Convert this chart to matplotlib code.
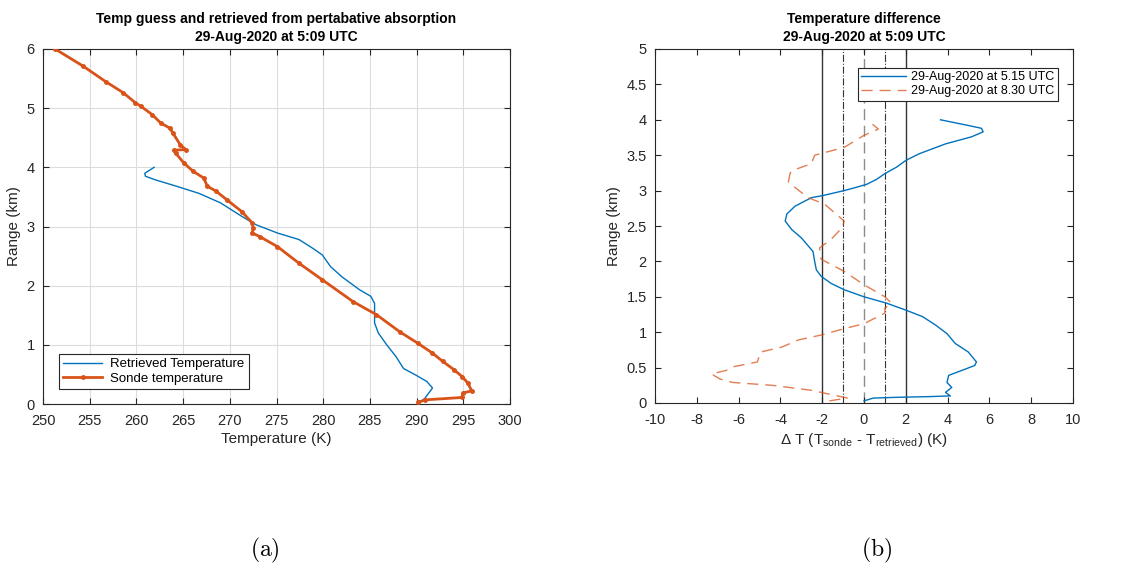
import numpy as np
import matplotlib.pyplot as plt
from matplotlib.ticker import MultipleLocator, FormatStrFormatter

# left panel: temperature profiles (K) vs range (km)
sonde_T = [290.2, 290.9, 294.85, 295.0, 295.9, 295.5, 294.9, 294.0, 292.8, 291.7,
           290.1, 288.2, 285.7, 283.2, 279.9, 277.4, 275.1, 273.2, 272.4, 272.5,
           272.4, 271.3, 269.7, 268.5, 267.6, 267.2, 266.1, 265.1, 264.2, 264.0,
           265.3, 264.7, 263.9, 263.6, 262.6, 261.7, 260.5, 259.9, 258.6, 256.7,
           254.3, 251.3]
sonde_z = [0.03, 0.07, 0.11, 0.19, 0.22, 0.35, 0.46, 0.58, 0.72, 0.86,
           1.03, 1.22, 1.51, 1.73, 2.10, 2.38, 2.66, 2.83, 2.89, 2.97,
           3.06, 3.25, 3.45, 3.60, 3.68, 3.82, 3.93, 4.07, 4.24, 4.29,
           4.30, 4.38, 4.58, 4.66, 4.75, 4.89, 5.03, 5.09, 5.26, 5.45,
           5.71, 6.0]

retr_T = [290.4, 290.9, 291.7, 291.1, 289.9, 288.6, 287.8, 286.8, 285.9, 285.5,
          285.5, 285.5, 285.1, 283.9, 282.0, 280.8, 279.9, 278.9, 277.4, 275.1,
          272.8, 271.3, 269.0, 266.7, 264.3, 262.0, 260.96, 260.9, 261.9]
retr_z = [0.03, 0.10, 0.27, 0.38, 0.49, 0.60, 0.80, 1.00, 1.20, 1.37,
          1.53, 1.70, 1.82, 1.93, 2.15, 2.32, 2.52, 2.63, 2.78, 2.89,
          3.03, 3.17, 3.40, 3.56, 3.68, 3.79, 3.85, 3.90, 4.0]

# right panel: temperature difference (K) vs range (km)
d515_T = [0.0, 0.45, 1.55, 3.1, 4.13, 3.9, 4.2, 3.97, 4.05, 4.68,
          5.3, 5.38, 4.99, 4.37, 3.97, 3.43, 2.8, 2.02, 1.08, 0.0,
          -0.95, -1.58, -2.05, -2.28, -2.36, -2.44, -2.99, -3.46, -3.77, -3.69,
          -3.3, -2.52, -1.97, -0.95, -0.33, 0.14, 0.61, 1.0, 1.55, 2.02,
          2.64, 3.9, 5.15, 5.7, 5.62, 4.99, 3.66]
d515_z = [0.03, 0.07, 0.08, 0.09, 0.10, 0.15, 0.22, 0.29, 0.39, 0.46,
          0.53, 0.58, 0.72, 0.84, 0.98, 1.10, 1.22, 1.31, 1.41, 1.50,
          1.60, 1.69, 1.79, 1.88, 2.00, 2.14, 2.33, 2.45, 2.57, 2.67,
          2.78, 2.90, 2.93, 3.00, 3.05, 3.09, 3.16, 3.24, 3.33, 3.43,
          3.52, 3.66, 3.76, 3.83, 3.88, 3.92, 4.0]

d830_T = [-1.66, -0.8, -1.27, -2.52, -4.4, -6.28, -6.9, -7.3, -6.6, -6.28,
          -5.1, -4.95, -3.93, -3.15, -2.05, -0.95, 0.0, 1.0, 1.0, 1.31,
          1.0, 0.0, -0.95, -2.05, -2.13, -1.58, -1.03, -0.95, -1.89, -2.68,
          -3.62, -3.54, -3.46, -2.52, -2.36, -0.95, 0.0, 0.69, 0.3]
d830_z = [0.03, 0.07, 0.10, 0.18, 0.25, 0.29, 0.34, 0.41, 0.46, 0.51,
          0.58, 0.72, 0.79, 0.89, 0.96, 1.05, 1.12, 1.27, 1.34, 1.41,
          1.50, 1.67, 1.86, 2.03, 2.19, 2.31, 2.48, 2.57, 2.81, 2.90,
          3.12, 3.24, 3.28, 3.38, 3.50, 3.61, 3.78, 3.87, 3.96]

blue = '#0072BD'
orange = '#D95319'
axcol = '#262626'

plt.rcParams['font.family'] = ['Liberation Sans', 'DejaVu Sans']
plt.rcParams['mathtext.fontset'] = 'custom'
plt.rcParams['mathtext.rm'] = 'Liberation Sans'
plt.rcParams['axes.unicode_minus'] = False
plt.rcParams['axes.edgecolor'] = axcol
plt.rcParams['xtick.color'] = axcol
plt.rcParams['ytick.color'] = axcol
plt.rcParams['xtick.direction'] = 'in'
plt.rcParams['ytick.direction'] = 'in'

fig = plt.figure(figsize=(11.3, 5.69), dpi=100)
ax1 = fig.add_axes([43/1130, 1-404/569, (510-43)/1130, (404-49)/569])
ax2 = fig.add_axes([655/1130, 1-403/569, (1073-655)/1130, (403-49)/569])

# (a)
ax1.grid(True, color='#dcdcdc', linewidth=0.8, zorder=0)
ax1.plot(retr_T, retr_z, color=blue, linewidth=1, label='Retrieved Temperature', zorder=3)
ax1.plot(sonde_T, sonde_z, color=orange, linewidth=2, marker='o', markersize=2.5,
         label='Sonde temperature', zorder=4)
ax1.set_xlim(250, 300)
ax1.set_ylim(0, 6)
ax1.xaxis.set_major_locator(MultipleLocator(5))
ax1.yaxis.set_major_locator(MultipleLocator(1))
ax1.tick_params(top=True, right=True, labelsize=10.5, length=4)
ax1.tick_params(axis='x', pad=7)
ax1.tick_params(axis='y', pad=6)
ax1.set_xlabel('Temperature (K)', fontsize=11, color=axcol, labelpad=3)
ax1.set_ylabel('Range (km)', fontsize=11, color=axcol, labelpad=4)
ax1.set_title('Temp guess and retrieved from pertabative absorption\n29-Aug-2020 at 5:09 UTC',
              fontsize=10, fontweight='bold', pad=6, linespacing=1.3)
leg1 = ax1.legend(loc='lower left', bbox_to_anchor=(0.02, 0.025), fontsize=9.5,
                  fancybox=False, framealpha=1, edgecolor=axcol, borderpad=0.3,
                  handlelength=3.0, handletextpad=0.6, labelspacing=0.15)
leg1.get_frame().set_linewidth(0.8)

# (b)
for xv in (-2, 2):
    ax2.axvline(xv, color='#333333', linewidth=1, zorder=1)
for xv in (-1, 1):
    ax2.axvline(xv, color='#333333', linewidth=0.8, linestyle='-.', zorder=1)
ax2.axvline(0, color='#8c8c8c', linewidth=1, linestyle=(0, (8, 4)), zorder=1)
ax2.plot(d515_T, d515_z, color=blue, linewidth=1, label='29-Aug-2020 at 5.15 UTC', zorder=3)
ax2.plot(d830_T, d830_z, color=orange, alpha=0.75, linewidth=1, linestyle=(0, (8, 5)),
         label='29-Aug-2020 at 8.30 UTC', zorder=3)
ax2.set_xlim(-10, 10)
ax2.set_ylim(0, 5)
ax2.xaxis.set_major_locator(MultipleLocator(2))
ax2.yaxis.set_major_locator(MultipleLocator(0.5))
ax2.yaxis.set_major_formatter(FormatStrFormatter('%g'))
ax2.tick_params(top=True, right=True, labelsize=10.5, length=4)
ax2.tick_params(axis='x', pad=7)
ax2.tick_params(axis='y', pad=6)
ax2.set_xlabel(r'$\Delta$ T (T$_{\mathrm{sonde}}$ - T$_{\mathrm{retrieved}}$) (K)', fontsize=11,
               color=axcol, labelpad=3)
ax2.set_ylabel('Range (km)', fontsize=11, color=axcol, labelpad=4)
ax2.set_title('Temperature difference\n29-Aug-2020 at 5:09 UTC',
              fontsize=10, fontweight='bold', pad=6, linespacing=1.3)
leg2 = ax2.legend(loc='upper right', bbox_to_anchor=(0.98, 0.965), fontsize=9,
                  fancybox=False, framealpha=1, edgecolor=axcol, borderpad=0.3,
                  handlelength=3.6, handletextpad=0.4, labelspacing=0.15)
leg2.get_frame().set_linewidth(0.8)

fig.text(265/1130, 1-550/569, r'$\mathrm{(a)}$', math_fontfamily='cm', fontsize=17,
         ha='center', va='center')
fig.text(877/1130, 1-550/569, r'$\mathrm{(b)}$', math_fontfamily='cm', fontsize=17,
         ha='center', va='center')

fig.savefig('out.png', dpi=100)
